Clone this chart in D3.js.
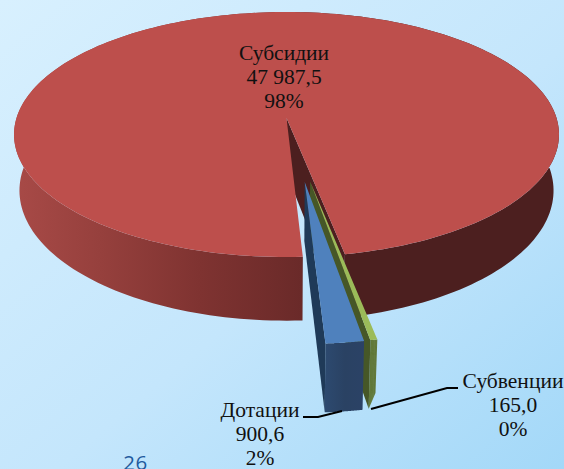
<!DOCTYPE html>
<html>
<head>
<meta charset="utf-8">
<script src="https://cdn.jsdelivr.net/npm/d3@7"></script>
<style>
html, body { margin: 0; padding: 0; overflow: hidden; }
text { font-family: "Liberation Serif", serif; font-size: 21.5px; fill: #111; text-anchor: middle; }
</style>
</head>
<body>
<div id="chart"></div>
<script>
// data
const categories = ["Субсидии", "Субвенции", "Дотации"];
const values = [47987.5, 165.0, 900.6];
const valueLabels = ["47 987,5", "165,0", "900,6"];
const percentLabels = ["98%", "0%", "2%"];
const pageNumber = "26";

const width = 564, height = 469;

// 3D settings
const explode = [0, 0.5, 0.5];
const nudge = [0, -0.007, 0.008];
const frontTaper = [1, 0.78, 1];   // depth of the first rim corner
const topColors = ["#bd4f4c", "#9bbb59", "#4f81bd"];
const wallColors = ["#4c1f1f", "#465727", "#1f3a58"];
const frontFill = ["url(#redWall)", "#5f7634", "url(#blueWall)"];
const k = -0.135;      // perspective
const radiusX = 270;
const cx = 286.5, cy = 118;
const scaleY = 120.3;
const bottomShrink = 0.98;
const rimSteps = 240;

function project(x, y) {
    const w = 1 + k * y;
    return [cx + radiusX * x / w, cy + scaleY * y / w];
}
function depth(y) {
    return 55 / (1 + k * y);
}
function lower(x, y, f = 1) {
    const p = project(x, y);
    return [cx + (p[0] - cx) * bottomShrink, p[1] + depth(y) * f];
}

const svg = d3.select("#chart").append("svg")
    .attr("width", width)
    .attr("height", height)
    .style("display", "block");

// gradients
const defs = svg.append("defs");
const bg = defs.append("linearGradient").attr("id", "bg")
    .attr("x1", "0%").attr("y1", "0%").attr("x2", "100%").attr("y2", "100%");
bg.append("stop").attr("offset", "0%").attr("stop-color", "#d8f0fe");
bg.append("stop").attr("offset", "55%").attr("stop-color", "#c4e6fc");
bg.append("stop").attr("offset", "100%").attr("stop-color", "#a3d8f8");

function wallGradient(id, stops) {
    const g = defs.append("linearGradient").attr("id", id)
        .attr("gradientUnits", "userSpaceOnUse")
        .attr("x1", stops[0][0]).attr("y1", 0)
        .attr("x2", stops[stops.length - 1][0]).attr("y2", 0);
    const x0 = stops[0][0], x1 = stops[stops.length - 1][0];
    stops.forEach(s => {
        g.append("stop").attr("offset", (s[0] - x0) / (x1 - x0)).attr("stop-color", s[1]);
    });
}
wallGradient("redWall", [[14, "#a84a47"], [100, "#96403d"], [200, "#7f3331"], [302, "#6a2a29"], [304, "#4c1f1f"], [557, "#4c1f1f"]]);
wallGradient("blueWall", [[324, "#2d4a70"], [345, "#2a4263"], [365, "#2b4266"]]);

svg.append("rect").attr("width", width).attr("height", height).attr("fill", "url(#bg)");

const pie = d3.pie().sort(null)
    .startAngle(177 * Math.PI / 180)
    .endAngle((177 + 360) * Math.PI / 180);
const arcs = pie(values);
const line = d3.line();

function drawSlice(d, i) {
    const mid = (d.startAngle + d.endAngle) / 2;
    const ex = explode[i] * Math.sin(mid) + nudge[i];
    const ey = -explode[i] * Math.cos(mid);
    const steps = d3.range(0, rimSteps + 1).map(n => d.startAngle + (d.endAngle - d.startAngle) * n / rimSteps);
    const rim = steps.map(a => [ex + Math.sin(a), ey - Math.cos(a)]);
    const g = svg.append("g");

    // outer wall, quads in one path so the side silhouette stays straight
    const upper = rim.map(p => project(p[0], p[1]));
    const under = rim.map((p, n) => lower(p[0], p[1], frontTaper[i] + (1 - frontTaper[i]) * n / rimSteps));
    const quads = d3.range(rimSteps)
        .map(n => line([upper[n], upper[n + 1], under[n + 1], under[n]]) + "Z")
        .join("");
    g.append("path").attr("d", quads).attr("fill", frontFill[i]);

    // cut edge that faces the viewer
    const edge = rim[rim.length - 1];
    g.append("path")
        .attr("d", line([project(ex, ey), project(edge[0], edge[1]), lower(edge[0], edge[1]), lower(ex, ey)]) + "Z")
        .attr("fill", wallColors[i]);

    // top face
    g.append("path")
        .attr("d", line([project(ex, ey)].concat(upper)) + "Z")
        .attr("fill", topColors[i]);
}
arcs.forEach((d, i) => drawSlice(d, i));

// leader lines
const leaders = [
    [[303, 417], [318, 417], [342, 411]],
    [[371, 409], [447, 388], [458, 388]]
];
leaders.forEach(l => {
    svg.append("path").attr("d", line(l)).attr("fill", "none")
        .attr("stroke", "#000").attr("stroke-width", 2);
});

// labels
const labelPos = [[284, 60], [513, 388], [260, 417]];
categories.forEach((c, i) => {
    const t = svg.append("text").attr("transform", `translate(${labelPos[i][0]},${labelPos[i][1]})`);
    t.append("tspan").attr("x", 0).attr("y", 0).text(c);
    t.append("tspan").attr("x", 0).attr("y", 24.2).text(valueLabels[i]);
    t.append("tspan").attr("x", 0).attr("y", 48.4).text(percentLabels[i]);
});

svg.append("text").attr("x", 135.5).attr("y", 470)
    .style("font-family", "'Open Sans', sans-serif")
    .style("font-size", "20.5px")
    .style("letter-spacing", "0.5px")
    .style("fill", "#1f5a9e")
    .text(pageNumber);
</script>
</body>
</html>
